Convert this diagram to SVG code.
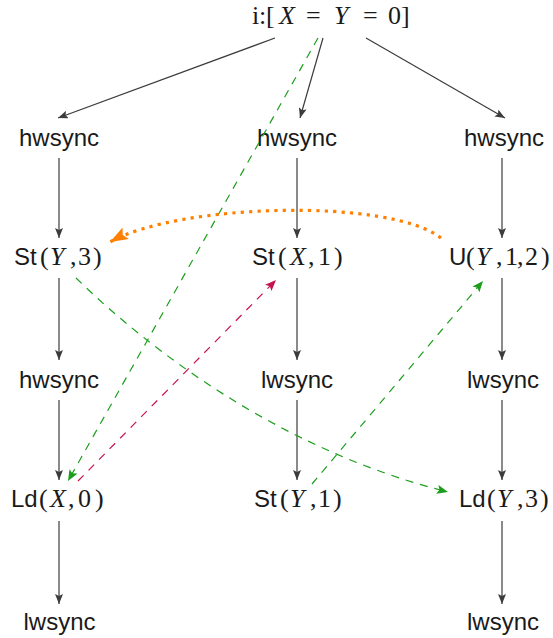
<svg xmlns="http://www.w3.org/2000/svg" width="553" height="638" viewBox="0 0 553 638">
<style>
.sans{font-family:"Liberation Sans","DejaVu Sans",sans-serif;font-size:24px;fill:#1a1a1a}
.m{font-family:"Liberation Serif","DejaVu Serif",serif;font-size:26px;fill:#1a1a1a}
.it{font-style:italic}
.lbl{text-anchor:middle}
.e{fill:none;stroke:#3c3c3c;stroke-width:1.2}
.g{fill:none;stroke:#1c9e1c;stroke-width:1.2;stroke-dasharray:8 7}
.r{fill:none;stroke:#c8114f;stroke-width:1.2;stroke-dasharray:8 7}
.o{fill:none;stroke:#ff8000;stroke-width:3.2;stroke-dasharray:3.2 5.2}
</style>
<defs>
<marker id="ak" markerUnits="userSpaceOnUse" markerWidth="10" markerHeight="8" viewBox="0 0 10 8" refX="10" refY="4" orient="auto"><path d="M0,0 L10,4 L0,8 L2,4 Z" fill="#3c3c3c"/></marker>
<marker id="ag" markerUnits="userSpaceOnUse" markerWidth="11" markerHeight="9" viewBox="0 0 11 9" refX="11" refY="4.5" orient="auto"><path d="M0,0 L11,4.5 L0,9 L2.2,4.5 Z" fill="#1c9e1c"/></marker>
<marker id="ar" markerUnits="userSpaceOnUse" markerWidth="11" markerHeight="9" viewBox="0 0 11 9" refX="11" refY="4.5" orient="auto"><path d="M0,0 L11,4.5 L0,9 L2.2,4.5 Z" fill="#c8114f"/></marker>
<marker id="ao" markerUnits="userSpaceOnUse" markerWidth="18" markerHeight="13" viewBox="0 0 18 13" refX="18" refY="6.5" orient="auto"><path d="M0,0 L18,6.5 L0,13 L3.5,6.5 Z" fill="#ff8000"/></marker>
</defs>

<g id="init"><text class="m" y="24"><tspan x="252">i</tspan><tspan x="259">:</tspan><tspan x="266">[</tspan><tspan x="279" class="it">X</tspan><tspan x="306">=</tspan><tspan x="334" class="it">Y</tspan><tspan x="363">=</tspan><tspan x="388">0</tspan><tspan x="401">]</tspan></text></g>

<g id="n11"><text class="sans lbl" x="59" y="146">hwsync</text></g>
<g id="n12"><text class="sans lbl" x="297" y="146">hwsync</text></g>
<g id="n13"><text class="sans lbl" x="504" y="146">hwsync</text></g>

<g id="n21"><text y="265"><tspan class="sans" x="14">St</tspan><tspan class="m" x="40">(</tspan><tspan class="m it" x="50">Y</tspan><tspan class="m" x="70">,</tspan><tspan class="m" x="78">3</tspan><tspan class="m" x="93">)</tspan></text></g>
<g id="n22"><text y="265"><tspan class="sans" x="252">St</tspan><tspan class="m" x="278">(</tspan><tspan class="m it" x="290">X</tspan><tspan class="m" x="308">,</tspan><tspan class="m" x="318">1</tspan><tspan class="m" x="334">)</tspan></text></g>
<g id="n23"><text y="265"><tspan class="sans" x="449">U</tspan><tspan class="m" x="466">(</tspan><tspan class="m it" x="476">Y</tspan><tspan class="m" x="496">,</tspan><tspan class="m" x="505">1</tspan><tspan class="m" x="517">,</tspan><tspan class="m" x="525">2</tspan><tspan class="m" x="541">)</tspan></text></g>

<g id="n31"><text class="sans lbl" x="59" y="388">hwsync</text></g>
<g id="n32"><text class="sans lbl" x="297" y="388">lwsync</text></g>
<g id="n33"><text class="sans lbl" x="503" y="388">lwsync</text></g>

<g id="n41"><text y="507"><tspan class="sans" x="11">Ld</tspan><tspan class="m" x="39">(</tspan><tspan class="m it" x="50">X</tspan><tspan class="m" x="68">,</tspan><tspan class="m" x="78">0</tspan><tspan class="m" x="95">)</tspan></text></g>
<g id="n42"><text y="507"><tspan class="sans" x="254">St</tspan><tspan class="m" x="280">(</tspan><tspan class="m it" x="290">Y</tspan><tspan class="m" x="310">,</tspan><tspan class="m" x="318">1</tspan><tspan class="m" x="333">)</tspan></text></g>
<g id="n43"><text y="507"><tspan class="sans" x="459">Ld</tspan><tspan class="m" x="487">(</tspan><tspan class="m it" x="497">Y</tspan><tspan class="m" x="517">,</tspan><tspan class="m" x="525">3</tspan><tspan class="m" x="540">)</tspan></text></g>

<g id="n51"><text class="sans lbl" x="59.5" y="630">lwsync</text></g>
<g id="n53"><text class="sans lbl" x="503" y="630">lwsync</text></g>

<g id="connectors">
<line class="e" x1="275" y1="38" x2="58" y2="118" marker-end="url(#ak)"/>
<line class="e" x1="323" y1="38" x2="300" y2="118" marker-end="url(#ak)"/>
<line class="e" x1="366" y1="38" x2="505" y2="118" marker-end="url(#ak)"/>

<line class="e" x1="59" y1="158" x2="59" y2="238" marker-end="url(#ak)"/>
<line class="e" x1="59" y1="278" x2="59" y2="360" marker-end="url(#ak)"/>
<line class="e" x1="59" y1="400" x2="59" y2="480" marker-end="url(#ak)"/>
<line class="e" x1="59" y1="521" x2="59" y2="604" marker-end="url(#ak)"/>

<line class="e" x1="297" y1="158" x2="297" y2="238" marker-end="url(#ak)"/>
<line class="e" x1="297" y1="278" x2="297" y2="360" marker-end="url(#ak)"/>
<line class="e" x1="297" y1="400" x2="297" y2="480" marker-end="url(#ak)"/>

<line class="e" x1="502" y1="158" x2="502" y2="238" marker-end="url(#ak)"/>
<line class="e" x1="502" y1="278" x2="502" y2="360" marker-end="url(#ak)"/>
<line class="e" x1="502" y1="400" x2="502" y2="480" marker-end="url(#ak)"/>
<line class="e" x1="502" y1="521" x2="502" y2="604" marker-end="url(#ak)"/>

<line class="g" x1="318" y1="38" x2="68" y2="481" marker-end="url(#ag)"/>
<line class="r" x1="78" y1="481" x2="276" y2="280" marker-end="url(#ar)"/>
<line class="g" x1="312" y1="484" x2="483" y2="281" marker-end="url(#ag)"/>
<path class="g" d="M76,278 C150,350 280,450 448,492" marker-end="url(#ag)"/>
<path class="o" d="M441,238 C390,198 180,203 110,242" marker-end="url(#ao)"/>
</g>
</svg>
